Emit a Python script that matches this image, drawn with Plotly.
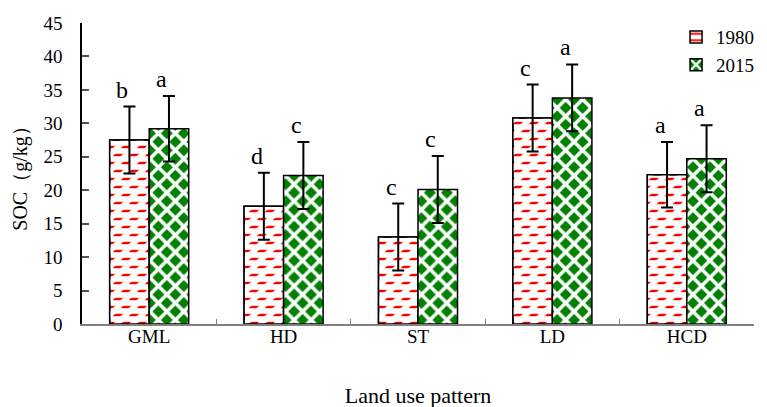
import plotly.graph_objects as go

categories = ["GML", "HD", "ST", "LD", "HCD"]
years = ["1980", "2015"]
soc_1980 = [27.5, 17.6, 13.0, 30.8, 22.3]
soc_2015 = [29.2, 22.2, 20.1, 33.8, 24.7]
err_1980 = [5.0, 5.0, 5.0, 5.0, 4.9]
err_2015 = [4.9, 5.0, 5.0, 5.0, 5.0]
letters_1980 = ["b", "d", "c", "c", "a"]
letters_2015 = ["a", "c", "c", "a", "a"]

FONT = "Liberation Serif"
W = 0.294
RED = "#FF0000"
GREEN = "#008000"
BAND_PX = 672 / len(categories)

fig = go.Figure()

# 1980: red horizontal lines ...
fig.add_bar(
    x=categories, y=soc_1980, width=W, offset=-W, name=years[0],
    legendgroup="a",
    marker=dict(color="white", opacity=1, line=dict(color="black", width=1.5),
                pattern=dict(shape="-", fgcolor=RED, bgcolor="white", fgopacity=1,
                             fillmode="replace", size=8, solidity=0.3)),
)
# ... broken into staggered dashes by a white diagonal overlay
fig.add_bar(
    x=categories, y=soc_1980, width=W, offset=-W, showlegend=False,
    hoverinfo="skip",
    marker=dict(color="rgba(0,0,0,0)", opacity=1, line=dict(color="black", width=1.5),
                pattern=dict(shape="/", fgcolor="white", fgopacity=1,
                             fillmode="replace",
                             bgcolor="rgba(0,0,0,0)", size=11.31, solidity=0.5)),
    error_y=dict(type="data", array=err_1980, color="black",
                 thickness=2, width=6),
)
# 2015: green diamond checker
fig.add_bar(
    x=categories, y=soc_2015, width=W, offset=0, name=years[1],
    legendgroup="b",
    marker=dict(color=GREEN, opacity=1, line=dict(color="black", width=1.5),
                pattern=dict(shape="x", fgcolor="white", bgcolor=GREEN, fgopacity=1,
                             fillmode="replace", size=12, solidity=0.5)),
    error_y=dict(type="data", array=err_2015, color="black",
                 thickness=2, width=6),
)

for i, c in enumerate(categories):
    fig.add_annotation(x=c, y=soc_1980[i] + err_1980[i], text=letters_1980[i],
                       showarrow=False, xshift=-7 - BAND_PX * W / 2, yanchor="bottom",
                       yshift=2, font=dict(family=FONT, size=24, color="black"))
    fig.add_annotation(x=c, y=soc_2015[i] + err_2015[i], text=letters_2015[i],
                       showarrow=False, xshift=-7 + BAND_PX * W / 2, yanchor="bottom",
                       yshift=2, font=dict(family=FONT, size=24, color="black"))

# page body has an 8px margin: shift plot area so it lands where the reference has it
fig.update_layout(
    width=767, height=407,
    margin=dict(l=74, r=21, t=15, b=91, autoexpand=False),
    barmode="overlay",
    plot_bgcolor="white", paper_bgcolor="white",
    font=dict(family=FONT, size=19, color="black"),
    legend=dict(x=0.884, y=1.016, xanchor="left", yanchor="top",
                font=dict(family=FONT, size=19), tracegroupgap=0,
                bgcolor="rgba(0,0,0,0)", itemwidth=30),
)
fig.update_yaxes(
    range=[0, 45], dtick=5, showgrid=False, zeroline=False, automargin=False,
    showline=True, linecolor="black", linewidth=1.5,
    ticks="inside", ticklen=7, tickcolor="#555555", tickwidth=1.5,
    ticklabelstandoff=14, tickfont=dict(family=FONT, size=19),
    title=dict(text="SOC（g/kg）", standoff=10, font=dict(family=FONT, size=20)),
)
fig.update_xaxes(
    showgrid=False, showline=True, linecolor="#808080", linewidth=1.5,
    automargin=False,
    ticks="inside", tickson="boundaries", ticklen=5, tickcolor="#808080",
    ticklabelstandoff=-6,
    tickfont=dict(family=FONT, size=19),
    title=dict(text="Land use pattern", standoff=42, font=dict(family=FONT, size=22)),
)

fig.write_html("out.html")
